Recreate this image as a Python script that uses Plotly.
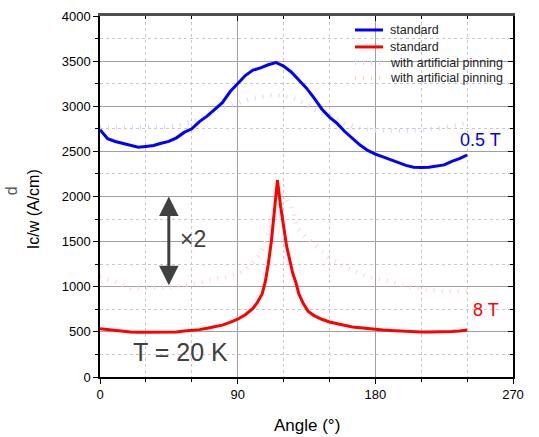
import plotly.graph_objects as go

# ---- data ----
blue_angle = [0, 5, 10, 15, 20, 25, 30, 35, 40, 45, 50, 55, 60, 65, 70, 75, 80, 85, 90, 95,
              100, 105, 110, 115, 120, 125, 130, 135, 140, 145, 150, 155, 160, 165, 170, 175,
              180, 185, 190, 195, 200, 205, 210, 215, 220, 225, 230, 235, 240]
blue_std = [2740, 2640, 2610, 2590, 2565, 2545, 2555, 2565, 2590, 2610, 2650, 2710, 2750, 2830,
            2890, 2960, 3040, 3160, 3250, 3340, 3400, 3425, 3460, 3485, 3445, 3380, 3290, 3200,
            3090, 2970, 2880, 2810, 2720, 2640, 2570, 2510, 2470, 2440, 2410, 2380, 2345, 2325,
            2320, 2325, 2340, 2350, 2390, 2420, 2460]

red_angle = [0, 5, 10, 15, 20, 25, 30, 35, 40, 45, 50, 55, 60, 65, 70, 75, 80, 85, 90, 95, 100,
             103, 106, 108, 110, 112, 114, 116, 118, 120, 122, 124, 126, 128, 130, 133, 136, 140,
             145, 150, 155, 160, 165, 170, 175, 180, 185, 190, 195, 200, 205, 210, 215, 220, 225,
             230, 235, 240]
red_std = [535, 525, 515, 510, 500, 495, 495, 495, 495, 500, 500, 510, 515, 525, 540, 555, 575,
           605, 640, 690, 760, 830, 920, 1050, 1250, 1500, 1850, 2180, 1900, 1650, 1450, 1300,
           1150, 1050, 920, 810, 730, 680, 640, 610, 590, 570, 555, 545, 535, 525, 520, 515, 510,
           505, 500, 500, 500, 500, 505, 505, 510, 520]

lblue_angle = [0, 10, 20, 30, 40, 50, 60, 70, 80, 90, 100, 110, 115, 120, 125, 130, 135, 140,
               150, 160, 170, 180, 190, 200, 210, 220, 230, 240]
lblue_pin = [2760, 2760, 2760, 2765, 2770, 2780, 2830, 2900, 2990, 3035, 3090, 3120, 3125, 3115,
             3100, 3070, 3020, 2960, 2900, 2810, 2760, 2735, 2730, 2725, 2735, 2750, 2780, 2820]

pink_angle = [0, 10, 20, 30, 40, 50, 60, 70, 80, 90, 95, 100, 103, 106, 110, 114, 118, 122, 125,
              127, 129, 134, 138, 142, 146, 150, 159, 166, 174, 189, 200, 210, 222, 237, 240]
pink_pin = [1110, 1050, 990, 985, 990, 1000, 1030, 1060, 1100, 1140, 1190, 1265, 1320, 1410, 1600,
            1850, 2000, 1960, 1890, 1800, 1650, 1560, 1500, 1430, 1375, 1320, 1230, 1170, 1115,
            1060, 1005, 975, 950, 950, 950]

legend_labels = ["standard", "standard", "with artificial pinning", "with artificial pinning"]

x_ticks = [0, 90, 180, 270]
y_ticks = [0, 500, 1000, 1500, 2000, 2500, 3000, 3500, 4000]

FONT = "Liberation Sans, Arial, sans-serif"
GRAY = "#404040"
BLUE, RED, LBLUE, PINK = "#0000ff", "#ff0000", "#d6d6ff", "#ffd2d2"

fig = go.Figure()
fig.add_trace(go.Scatter(x=lblue_angle, y=lblue_pin, mode="lines", name=legend_labels[2],
                         line=dict(color=LBLUE, width=4.5, dash="1px,7px"), showlegend=False))
fig.add_trace(go.Scatter(x=pink_angle, y=pink_pin, mode="lines", name=legend_labels[3],
                         line=dict(color=PINK, width=4.5, dash="1px,7px"), showlegend=False))
fig.add_trace(go.Scatter(x=blue_angle, y=blue_std, mode="lines", name=legend_labels[0],
                         line=dict(color=BLUE, width=3), showlegend=False))
fig.add_trace(go.Scatter(x=red_angle, y=red_std, mode="lines", name=legend_labels[1],
                         line=dict(color=RED, width=3), showlegend=False))

# overlay axes for inward ticks on top and right
fig.add_trace(go.Scatter(x=[0], y=[0], xaxis="x2", yaxis="y2", mode="markers",
                         marker=dict(opacity=0), showlegend=False, hoverinfo="skip"))

fig.update_layout(
    width=539, height=437,
    margin=dict(l=100, r=26, t=16, b=59.5, autoexpand=False),
    paper_bgcolor="white", plot_bgcolor="white",
    font=dict(family=FONT, color="black"),
    showlegend=False,
    xaxis=dict(range=[0, 270], tickvals=x_ticks, ticks="outside", ticklen=5, tickwidth=1.2,
               tickcolor="black", showline=True, linecolor="black", linewidth=1.5,
               showgrid=True, gridcolor="#a0a0a0", gridwidth=1, zeroline=False,
               tickfont=dict(size=13), automargin=False,
               minor=dict(dtick=30, tick0=0, ticks="outside", ticklen=3, tickcolor="black",
                          showgrid=True, gridcolor="#c8c8c8", griddash="dot", gridwidth=1)),
    yaxis=dict(range=[0, 4000], tickvals=y_ticks, ticks="outside", ticklen=5, tickwidth=1.2,
               tickcolor="black", showline=True, linecolor="black", linewidth=1.5,
               showgrid=True, gridcolor="#a0a0a0", gridwidth=1, zeroline=False,
               tickfont=dict(size=13), automargin=False,
               minor=dict(dtick=250, tick0=0, ticks="outside", ticklen=3, tickcolor="black",
                          showgrid=True, gridcolor="#c8c8c8", griddash="dot", gridwidth=1)),
    xaxis2=dict(range=[0, 270], overlaying="x", side="top", tickvals=x_ticks, ticks="inside",
                ticklen=5, tickcolor="black", showticklabels=False, showline=True,
                linecolor="#505050", linewidth=2.5, showgrid=False, zeroline=False,
                minor=dict(dtick=30, tick0=0, ticks="inside", ticklen=3, tickcolor="black")),
    yaxis2=dict(range=[0, 4000], overlaying="y", side="right", tickvals=y_ticks, ticks="inside",
                ticklen=5, tickcolor="black", showticklabels=False, showline=True,
                linecolor="black", linewidth=1.5, showgrid=False, zeroline=False,
                minor=dict(dtick=250, tick0=0, ticks="inside", ticklen=3, tickcolor="black")),
)

# axis titles
fig.add_annotation(x=-0.162, y=0.465, xref="paper", yref="paper", text="Ic/w (A/cm)",
                   showarrow=False, textangle=-90, xanchor="center", yanchor="middle",
                   font=dict(size=16, color="black", family=FONT))
fig.add_annotation(x=0.5, y=-0.134, xref="paper", yref="paper", text="Angle (°)",
                   showarrow=False, xanchor="center", yanchor="middle",
                   font=dict(size=17, color="black", family=FONT))

# manual legend (top right, inside plot)
leg_rows = [0.9613, 0.9143, 0.8700, 0.8285]
leg_styles = [dict(color=BLUE, width=3), dict(color=RED, width=3),
              dict(color=LBLUE, width=4.5, dash="1px,7px"), dict(color=PINK, width=4.5, dash="1px,7px")]
for lab, yy, st in zip(legend_labels, leg_rows, leg_styles):
    fig.add_shape(type="line", xref="paper", yref="paper", x0=0.6174, x1=0.6852, y0=yy, y1=yy,
                  line=st)
    fig.add_annotation(x=0.6973, y=yy, xref="paper", yref="paper", text=lab, showarrow=False,
                       xanchor="left", yanchor="middle", font=dict(size=12.5, color="#222222", family=FONT))

# annotations
fig.add_annotation(x=45, y=2000, ax=45, ay=1000, xref="x", yref="y", axref="x", ayref="y",
                   text="", showarrow=True, arrowhead=2, arrowside="end+start", arrowsize=1.3,
                   arrowwidth=3, arrowcolor=GRAY)
fig.add_annotation(x=51, y=1530, xref="x", yref="y", text="×2", showarrow=False,
                   xanchor="left", font=dict(size=23, color=GRAY, family=FONT))
fig.add_annotation(x=20.5, y=275, xref="x", yref="y", text="T = 20 K", showarrow=False,
                   xanchor="left", font=dict(size=25, color=GRAY, family=FONT))
fig.add_annotation(x=248.5, y=2630, xref="x", yref="y", text="0.5 T", showarrow=False,
                   font=dict(size=18, color=BLUE, family=FONT))
fig.add_annotation(x=252.5, y=745, xref="x", yref="y", text="8 T", showarrow=False,
                   font=dict(size=18, color=RED, family=FONT))
fig.add_annotation(x=-0.215, y=0.515, xref="paper", yref="paper", text="d", showarrow=False,
                   textangle=-90, xanchor="center", yanchor="middle",
                   font=dict(size=16, color="#555555", family=FONT))

fig.write_html("out.html")
